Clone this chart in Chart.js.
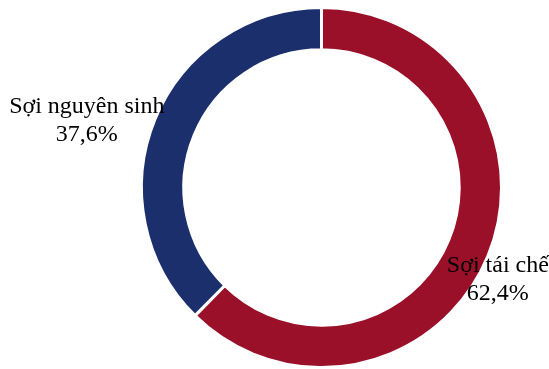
<!DOCTYPE html>
<html>
<head>
<meta charset="utf-8">
<script src="https://cdn.jsdelivr.net/npm/chart.js@4/dist/chart.umd.min.js"></script>
<style>
  html, body { margin: 0; padding: 0; background: #fff; }
  #wrap { width: 549px; height: 369px; }
</style>
</head>
<body>
<div id="wrap"><canvas id="myChart"></canvas></div>
<script>
const categories = ['Sợi tái chế', 'Sợi nguyên sinh'];
const shares = [62.4, 37.6];
const colors = ['#9A1029', '#1C2F6D'];

// label placement around the ring (angle in degrees, canvas coords; distance from centre)
const labelSpots = [
  { angle: 27.6, dist: 199 },
  { angle: 195.9, dist: 244 }
];

const sliceLabels = {
  id: 'sliceLabels',
  afterDatasetsDraw(chart) {
    const c = chart.ctx;
    const arc = chart.getDatasetMeta(0).data[0];
    const cx = arc.x, cy = arc.y;
    c.save();
    c.font = '24px "Liberation Serif", "Times New Roman", serif';
    c.fillStyle = '#000';
    c.textAlign = 'center';
    c.textBaseline = 'middle';
    categories.forEach((name, i) => {
      const a = labelSpots[i].angle * Math.PI / 180;
      const x = cx + Math.cos(a) * labelSpots[i].dist;
      const y = cy + Math.sin(a) * labelSpots[i].dist;
      c.fillText(name, x, y - 14);
      c.fillText(shares[i].toFixed(1).replace('.', ',') + '%', x, y + 14);
    });
    c.restore();
  }
};

const ctx = document.getElementById('myChart');

new Chart(ctx, {
  type: 'doughnut',
  data: {
    labels: categories,
    datasets: [{
      data: shares,
      backgroundColor: colors,
      borderColor: '#fff',
      borderWidth: 3,
      hoverOffset: 0
    }]
  },
  options: {
    responsive: true,
    maintainAspectRatio: false,
    animation: false,
    cutout: '76.5%',
    rotation: 0,
    layout: { padding: { left: 94, right: 0, top: 6, bottom: 0 } },
    plugins: {
      legend: { display: false },
      tooltip: { enabled: false }
    }
  },
  plugins: [sliceLabels]
});
</script>
</body>
</html>
